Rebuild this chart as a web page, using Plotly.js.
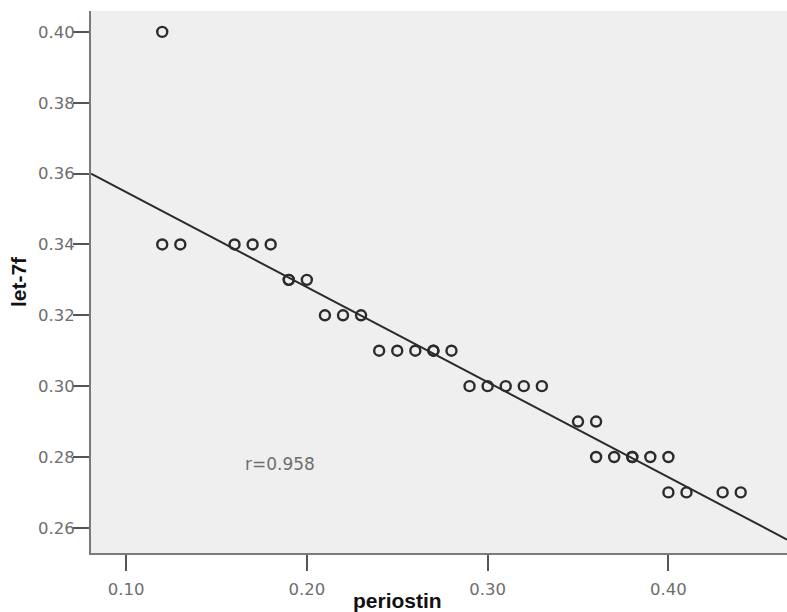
<!DOCTYPE html>
<html>
<head>
<meta charset="utf-8">
<script src="https://cdn.plot.ly/plotly-3.0.1.min.js"></script>
<style>html,body{margin:0;padding:0;background:#fff;}#chart{width:787px;height:612px;}</style>
</head>
<body>
<div id="chart"></div>
<script>
// Observed points (periostin, let-7f)
const periostin = [0.12, 0.12, 0.13, 0.16, 0.17, 0.18, 0.19, 0.19, 0.20, 0.21, 0.22, 0.23,
                   0.24, 0.25, 0.26, 0.27, 0.27, 0.28, 0.29, 0.30, 0.31, 0.32, 0.33,
                   0.35, 0.36, 0.36, 0.37, 0.38, 0.38, 0.39, 0.40, 0.40, 0.41, 0.43, 0.44];
const let7f =     [0.40, 0.34, 0.34, 0.34, 0.34, 0.34, 0.33, 0.33, 0.33, 0.32, 0.32, 0.32,
                   0.31, 0.31, 0.31, 0.31, 0.31, 0.31, 0.30, 0.30, 0.30, 0.30, 0.30,
                   0.29, 0.29, 0.28, 0.28, 0.28, 0.28, 0.28, 0.28, 0.27, 0.27, 0.27, 0.27];
// Fit line endpoints
const fitX = [0.0806, 0.4656];
const fitY = [0.3600, 0.2567];
const xTicks = [0.10, 0.20, 0.30, 0.40];
const xTickLabels = ["0.10", "0.20", "0.30", "0.40"];
const yTicks = [0.26, 0.28, 0.30, 0.32, 0.34, 0.36, 0.38, 0.40];
const yTickLabels = ["0.26", "0.28", "0.30", "0.32", "0.34", "0.36", "0.38", "0.40"];
const rLabel = "r=0.958";

const traces = [
  {x: fitX, y: fitY, type: 'scatter', mode: 'lines',
   line: {color: '#2b2b2b', width: 2}, hoverinfo: 'skip', showlegend: false},
  {x: periostin, y: let7f, type: 'scatter', mode: 'markers',
   marker: {symbol: 'circle-open', size: 10, color: '#2b2b2b', line: {width: 2.4, color: '#2b2b2b'}},
   showlegend: false}
];

const tickFont = {family: 'DejaVu Sans, Arial, sans-serif', size: 16.5, color: '#6e6e6e'};

const layout = {
  width: 787, height: 612,
  margin: {l: 91, r: 0, t: 11, b: 59, pad: 0},
  paper_bgcolor: '#ffffff',
  plot_bgcolor: '#efefef',
  showlegend: false,
  xaxis: {
    range: [0.0806, 0.4656], tickvals: xTicks, ticktext: xTickLabels,
    ticks: 'outside', ticklen: 16, tickwidth: 2, tickcolor: '#555',
    showline: true, linecolor: '#7a7a7a', linewidth: 2, mirror: false,
    showgrid: false, zeroline: false, tickfont: tickFont, automargin: false,
    ticklabelstandoff: 4
  },
  yaxis: {
    range: [0.2529, 0.4059], tickvals: yTicks, ticktext: yTickLabels,
    ticks: 'outside', ticklen: 16, tickwidth: 2, tickcolor: '#555',
    showline: true, linecolor: '#7a7a7a', linewidth: 2, mirror: false,
    showgrid: false, zeroline: false, tickfont: tickFont, automargin: false,
    ticklabelstandoff: -5,
    title: {text: 'let-7f', font: {family: 'Arial, Liberation Sans, sans-serif', size: 21, color: '#111', weight: 'bold'}, standoff: 6}
  },
  annotations: [
    {text: '<b>periostin</b>', xref: 'paper', yref: 'paper',
     x: (397 - 91) / 696, y: -0.0, yshift: -47, xanchor: 'center', yanchor: 'middle',
     showarrow: false, font: {family: 'Arial, Liberation Sans, sans-serif', size: 21, color: '#111'}},
    {text: rLabel, xref: 'x', yref: 'y', x: 0.185, y: 0.278,
     showarrow: false, xanchor: 'center', yanchor: 'middle',
     font: {family: 'DejaVu Sans, Arial, sans-serif', size: 17, color: '#6e6e6e'}}
  ]
};

Plotly.newPlot('chart', traces, layout, {staticPlot: true, displayModeBar: false});
</script>
</body>
</html>
